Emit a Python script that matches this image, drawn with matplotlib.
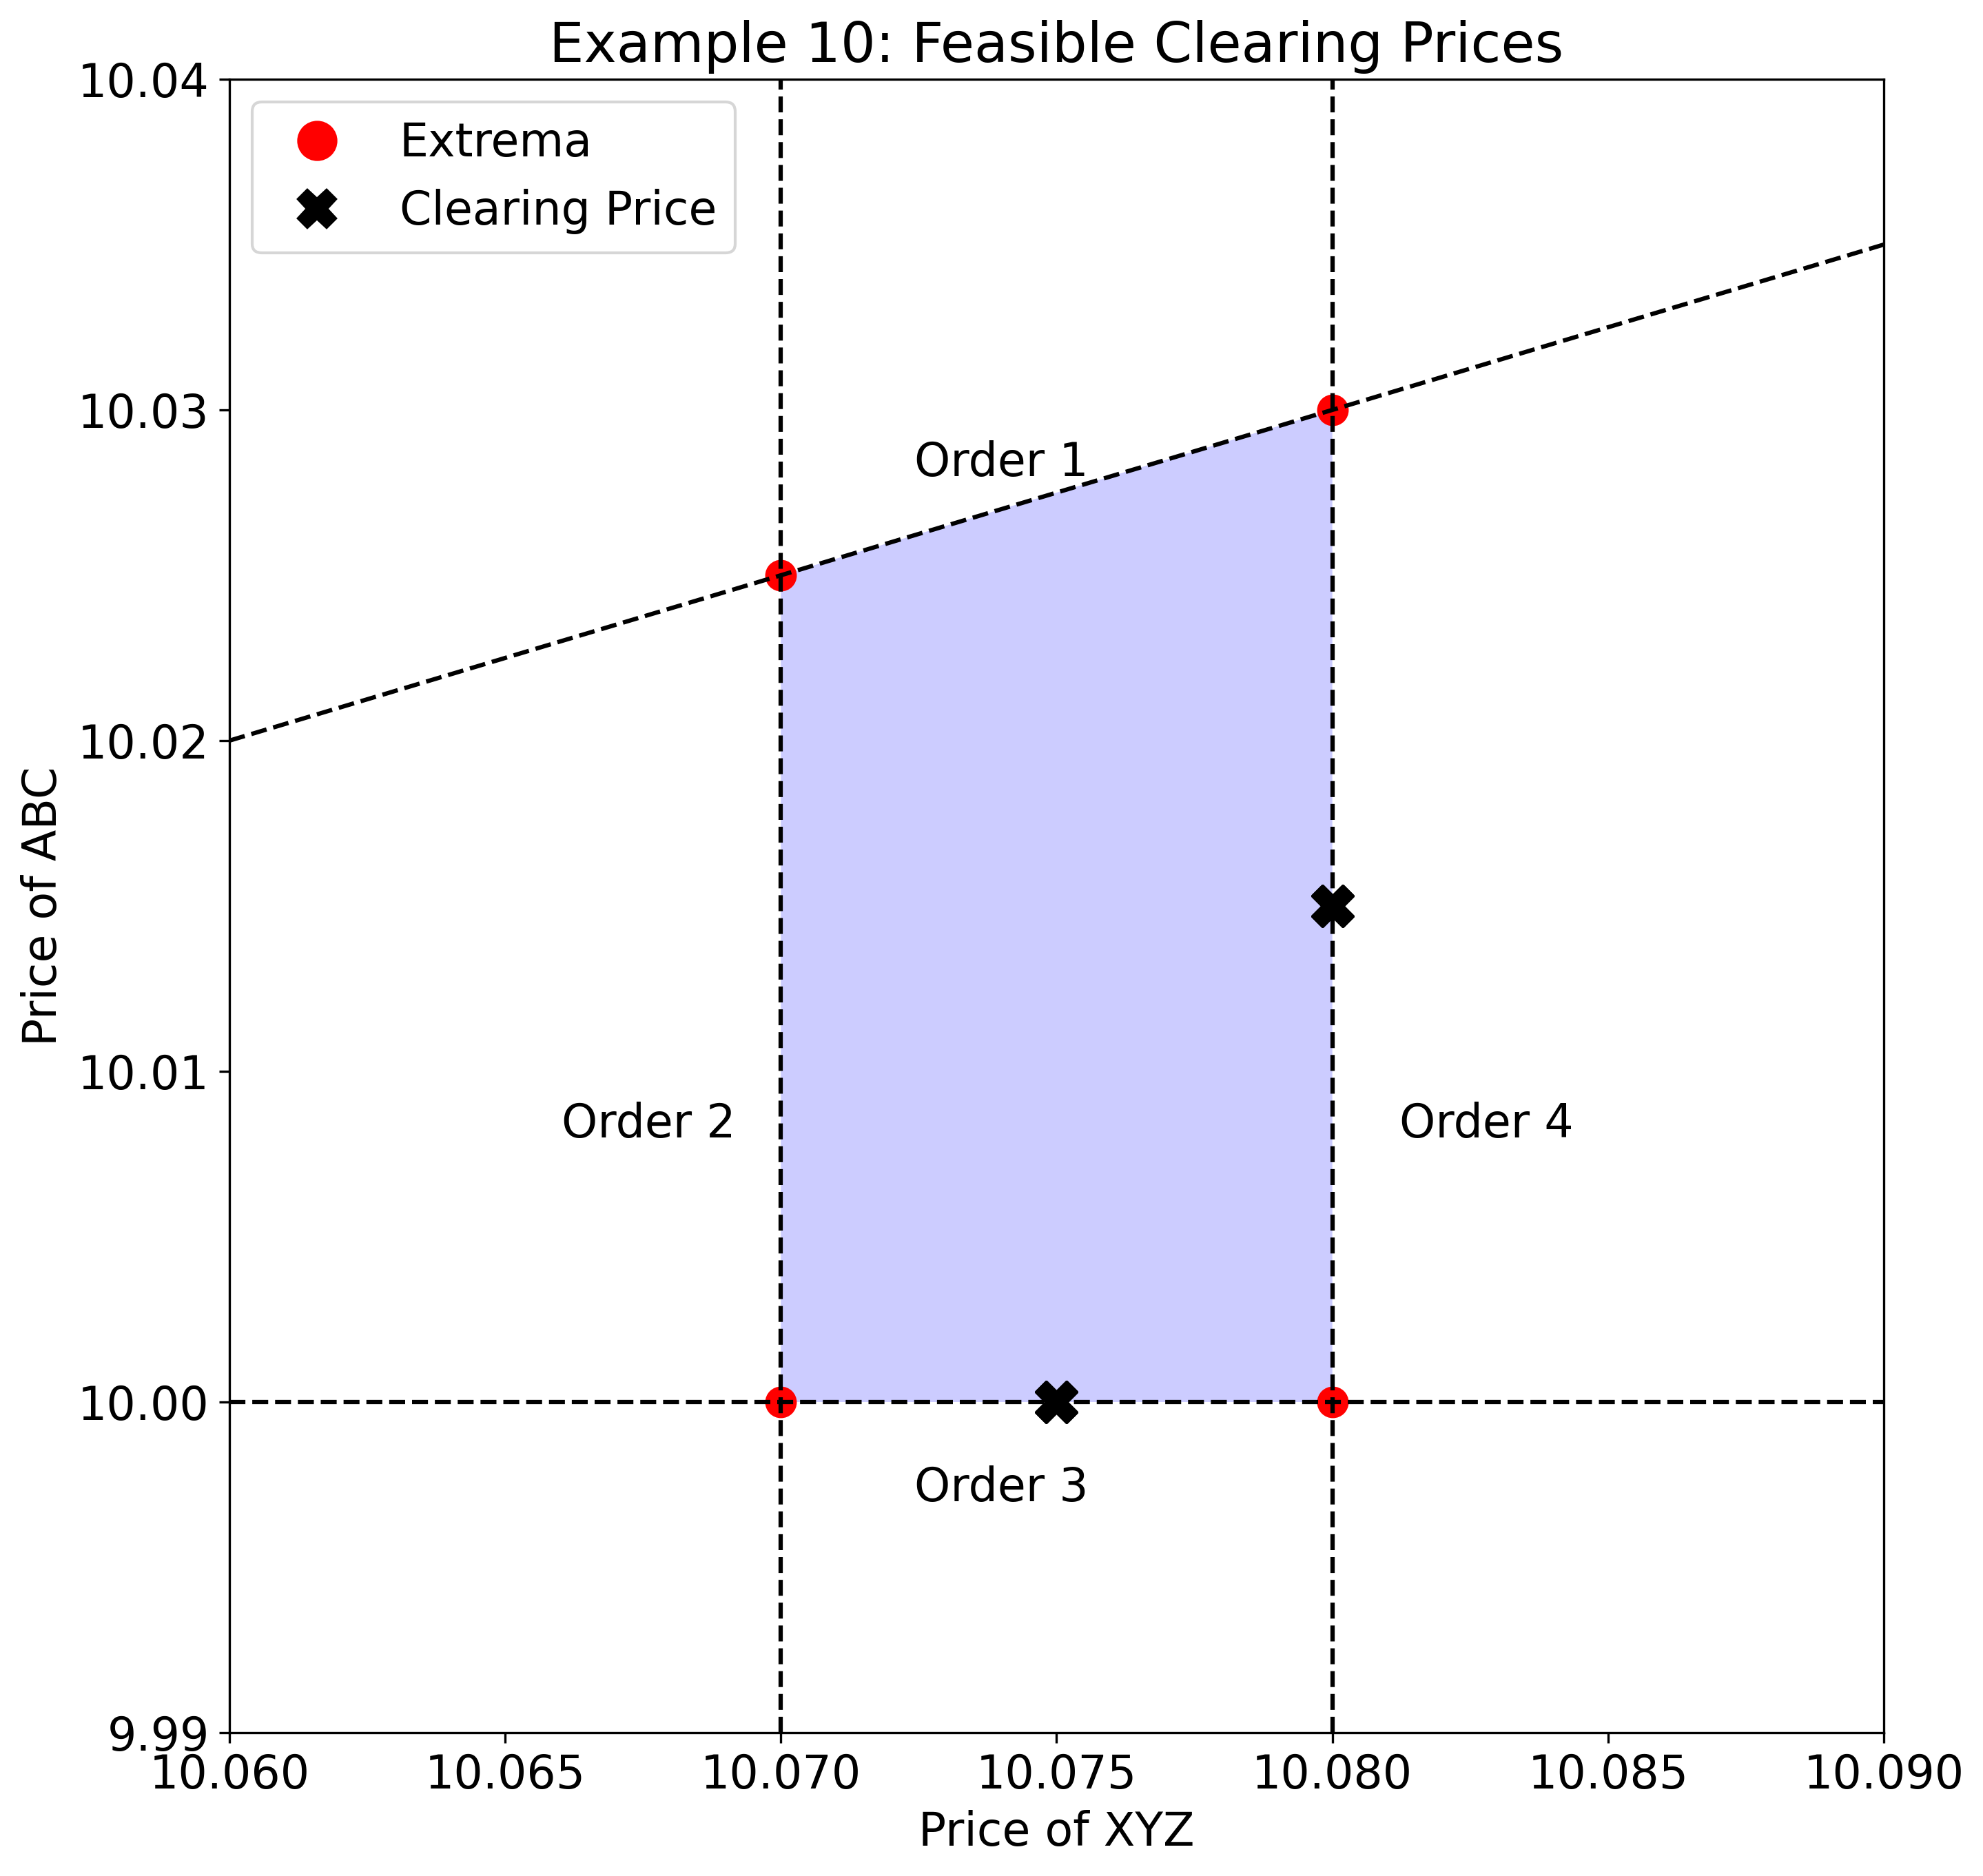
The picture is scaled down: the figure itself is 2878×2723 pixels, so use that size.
import matplotlib
matplotlib.use("Agg")
import matplotlib.pyplot as plt
from matplotlib.lines import Line2D

# order boundaries
order1_x = [10.06, 10.09]
order1_y = [10.02, 10.035]
order2_x = 10.07
order3_y = 10.00
order4_x = 10.08

# feasible region corners
region_x = [10.07, 10.08, 10.08, 10.07]
region_y = [10.0, 10.0, 10.03, 10.025]

extrema_x = [10.07, 10.08, 10.07, 10.08]
extrema_y = [10.025, 10.03, 10.0, 10.0]

clearing_x = [10.075, 10.08]
clearing_y = [10.0, 10.015]

order_labels = ["Order 1", "Order 2", "Order 3", "Order 4"]
label_x = [10.0740, 10.0676, 10.0740, 10.0828]
label_y = [10.0284, 10.0084, 9.9974, 10.0084]

fig = plt.figure(figsize=(2879 / 300, 2723 / 300), dpi=300)
ax = fig.add_axes([333 / 2879, 1 - 2515 / 2723, 2401 / 2879, 2400 / 2723])

ax.fill(region_x, region_y, color="blue", alpha=0.2, linewidth=0)

ax.scatter(extrema_x, extrema_y, color="red", s=100)
ax.scatter(clearing_x, clearing_y, color="black", marker="X", s=200)
ax.scatter(clearing_x, clearing_y, color="black", marker="X", s=200)

ax.plot(order1_x, order1_y, "k--", linewidth=1.5)
ax.axvline(order2_x, color="black", linestyle="--", linewidth=1.5)
ax.axhline(order3_y, color="black", linestyle="--", linewidth=1.5)
ax.axvline(order4_x, color="black", linestyle="--", linewidth=1.5)

for lab, x, y in zip(order_labels, label_x, label_y):
    ax.text(x, y, lab, fontsize=16, ha="center", va="center")

ax.set_xlim(10.06, 10.09)
ax.set_ylim(9.99, 10.04)
ax.set_xticks([10.06, 10.065, 10.07, 10.075, 10.08, 10.085, 10.09])
ax.set_xticklabels(["10.060", "10.065", "10.070", "10.075", "10.080", "10.085", "10.090"])
ax.set_yticks([9.99, 10.0, 10.01, 10.02, 10.03, 10.04])
ax.set_yticklabels(["9.99", "10.00", "10.01", "10.02", "10.03", "10.04"])
ax.tick_params(labelsize=16)
ax.set_xlabel("Price of XYZ", fontsize=16)
ax.set_ylabel("Price of ABC", fontsize=16)
ax.set_title("Example 10: Feasible Clearing Prices", fontsize=19.2)

handles = [
    Line2D([], [], linestyle="none", marker="o", color="red", markersize=13),
    Line2D([], [], linestyle="none", marker="X", color="black", markersize=13),
]
ax.legend(handles, ["Extrema", "Clearing Price"], loc="upper left", fontsize=16)

fig.savefig("out.png", dpi=300)
